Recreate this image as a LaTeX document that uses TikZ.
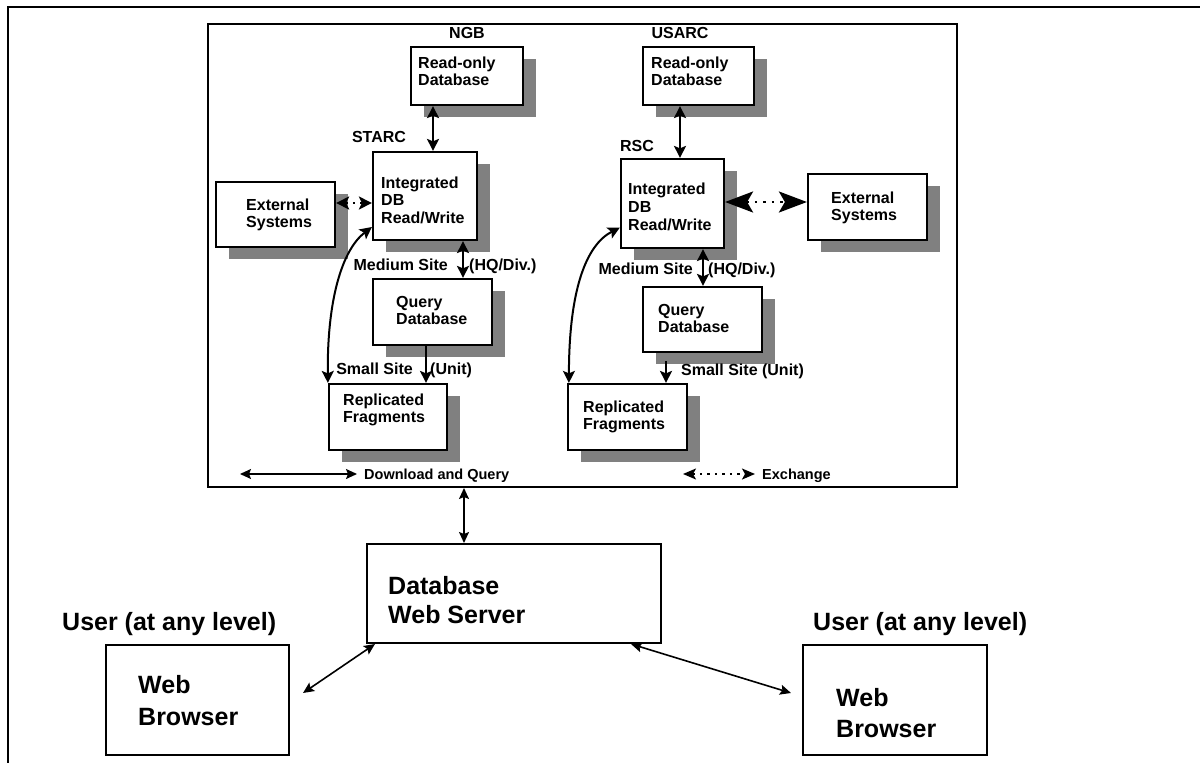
\documentclass[tikz,border=0pt]{standalone}
\usepackage{fontspec}
\setmainfont{Liberation Sans}
\usetikzlibrary{arrows.meta,shadows}

\begin{document}
\begin{tikzpicture}[x=1pt,y=-1pt,
	box/.style={draw,line width=2.2pt,fill=white,inner sep=0pt},
	sbox/.style={box,drop shadow={shadow xshift=13pt,shadow yshift=-12pt,fill=gray,opacity=1}},
	txt/.style={font=\fontsize{16}{17}\selectfont\bfseries,align=left,inner sep=0pt,anchor=base west},
	lbl/.style={font=\fontsize{16}{17}\selectfont\bfseries,inner sep=0pt,anchor=base},
	big/.style={font=\fontsize{25}{29}\selectfont\bfseries,align=left,inner sep=0pt,anchor=base west},
	lgd/.style={font=\fontsize{14.5}{16}\selectfont\bfseries,inner sep=0pt,anchor=base west},
	arr/.style={{Stealth[length=12pt,width=12pt,inset=2.5pt]}-{Stealth[length=12pt,width=12pt,inset=2.5pt]},line width=2pt},
	arrone/.style={-{Stealth[length=12pt,width=12pt,inset=2.5pt]},line width=2pt},
	arrthin/.style={{Stealth[length=11pt,width=10pt,inset=2pt]}-{Stealth[length=11pt,width=10pt,inset=2pt]},line width=1.6pt},
	xchg/.style={{Stealth[length=13pt,width=13pt,inset=3pt]}-{Stealth[length=13pt,width=13pt,inset=3pt]},line width=2.4pt,dash pattern=on 2.5pt off 5pt},
	xchgbig/.style={{Stealth[length=28pt,width=21pt,inset=6pt]}-{Stealth[length=28pt,width=21pt,inset=6pt]},line width=2.4pt,dash pattern=on 2.5pt off 6pt}]
	\useasboundingbox (0,0) rectangle (1200,763);
	\draw[line width=2.5pt] (8,763) -- (8,7) -- (1200,7);
	\node[draw,line width=2pt,inner sep=0pt,minimum width=749pt,minimum height=463pt] (site) at (582.5,255.5) {};

	\node[sbox,minimum width=112pt,minimum height=58pt] (ngbdb) at (467,76) {};
	\node[txt] (ngbdbt) at (418,85) {Read-only\\Database};
	\node[sbox,minimum width=111pt,minimum height=58pt] (usadb) at (698.5,76) {};
	\node[txt] (usadbt) at (651,85) {Read-only\\Database};
	\node[sbox,minimum width=104pt,minimum height=88pt] (starc) at (425,196) {};
	\node[txt,font=\fontsize{16}{17.5}\selectfont\bfseries] (starct) at (381,223) {Integrated\\DB\\Read/Write};
	\node[sbox,minimum width=103pt,minimum height=89pt] (rsc) at (672.5,203.5) {};
	\node[txt,font=\fontsize{16}{18}\selectfont\bfseries] (rsct) at (628,230) {Integrated\\DB\\Read/Write};
	\node[sbox,minimum width=119pt,minimum height=65pt] (extL) at (275.5,214.5) {};
	\node[txt] (extLt) at (246,227) {External\\Systems};
	\node[sbox,minimum width=119pt,minimum height=66pt] (extR) at (867.5,207) {};
	\node[txt] (extRt) at (831,220) {External\\Systems};
	\node[sbox,minimum width=119pt,minimum height=66pt] (qryL) at (432.5,312) {};
	\node[txt] (qryLt) at (396,324) {Query\\Database};
	\node[sbox,minimum width=119pt,minimum height=65pt] (qryR) at (702.5,319.5) {};
	\node[txt] (qryRt) at (658,332) {Query\\Database};
	\node[sbox,minimum width=118pt,minimum height=66pt] (repL) at (388,417) {};
	\node[txt] (repLt) at (343,422) {Replicated\\Fragments};
	\node[sbox,minimum width=119pt,minimum height=66pt] (repR) at (627.5,417) {};
	\node[txt] (repRt) at (583,429) {Replicated\\Fragments};

	\node[lbl] (ngb) at (467,38) {NGB};
	\node[lbl] (usarc) at (680,38) {USARC};
	\node[lbl] (starcl) at (379,142) {STARC};
	\node[lbl] (rscl) at (637,151) {RSC};
	\node[lbl,anchor=base east] (medLa) at (448,270) {Medium Site};
	\node[lbl,anchor=base west] (medLb) at (469,270) {(HQ/Div.)};
	\node[lbl,anchor=base east] (medRa) at (693,274) {Medium Site};
	\node[lbl,anchor=base west] (medRb) at (708,274) {(HQ/Div.)};
	\node[lbl,anchor=base east] (smlLa) at (413,374) {Small Site};
	\node[lbl,anchor=base west] (smlLb) at (430,374) {(Unit)};
	\node[lbl,anchor=base west] (smlR) at (681,375) {Small Site (Unit)};

	\draw[arr] ([xshift=-34pt]ngbdb.south) -- ([xshift=-34pt]ngbdb.south |- starc.north);
	\draw[arr] ([xshift=-18.5pt]usadb.south) -- ([xshift=-18.5pt]usadb.south |- rsc.north);
	\draw[arr] ([xshift=38pt]starc.south) -- ([xshift=38pt]starc.south |- qryL.north);
	\draw[arr] ([xshift=30.5pt]rsc.south) -- ([xshift=30.5pt]rsc.south |- qryR.north);
	\draw[arrone] ([xshift=-6.5pt]qryL.south) -- ([xshift=-6.5pt]qryL.south |- repL.north);
	\draw[arrone] ([xshift=-36.5pt,yshift=-8pt]qryR.south) -- ([xshift=-36.5pt]qryR.south |- repR.north);
	\draw[xchg] ([yshift=11.5pt]extL.east) -- ([yshift=11.5pt]extL.east -| starc.west);
	\draw[xchgbig] ([yshift=1.5pt]rsc.east) -- ([yshift=1.5pt]rsc.east -| extR.west);
	\draw[arr] (repL.north west) .. controls (327,300) and (342,250) .. ([yshift=-31pt]starc.west);
	\draw[arr] ([xshift=2pt]repR.north west) .. controls (569,290) and (586,245) .. ([yshift=-24pt]rsc.west);

	\coordinate (dlA) at (240,474);
	\coordinate (dlB) at (357,474);
	\draw[arrthin,line width=1.5pt] (dlA) -- (dlB);
	\node[lgd] (dlt) at (364,479) {Download and Query};
	\coordinate (exA) at (683,474);
	\coordinate (exB) at (755,474);
	\draw[xchg,line width=1.8pt,{Stealth[length=13pt,width=11pt,inset=3pt]}-{Stealth[length=13pt,width=11pt,inset=3pt]}] (exA) -- (exB);
	\node[lgd] (ext) at (762,479) {Exchange};

	\node[box,line width=2pt,minimum width=294pt,minimum height=99pt] (server) at (514,593.5) {};
	\node[big] (servert) at (388,623) {Database\\Web Server};
	\node[box,line width=2pt,minimum width=183pt,minimum height=110pt] (browL) at (197.5,700) {};
	\node[big,font=\fontsize{25}{32}\selectfont\bfseries] (browLt) at (138,725) {Web\\Browser};
	\node[box,line width=2pt,minimum width=184pt,minimum height=110pt] (browR) at (895,700) {};
	\node[big,font=\fontsize{25}{31}\selectfont\bfseries] (browRt) at (836,737) {Web\\Browser};
	\node[big] (userL) at (62,630) {User (at any level)};
	\node[big] (userR) at (813,630) {User (at any level)};

	\draw[arrthin] ([xshift=-118.5pt]site.south) -- ([xshift=-118.5pt]site.south |- server.north);
	\draw[arrthin] ([xshift=13pt,yshift=7pt]browL.east) -- ([xshift=9pt]server.south west);
	\draw[arrthin] ([xshift=-31pt]server.south east) -- ([xshift=-11pt,yshift=7pt]browR.west);
\end{tikzpicture}
\end{document}
